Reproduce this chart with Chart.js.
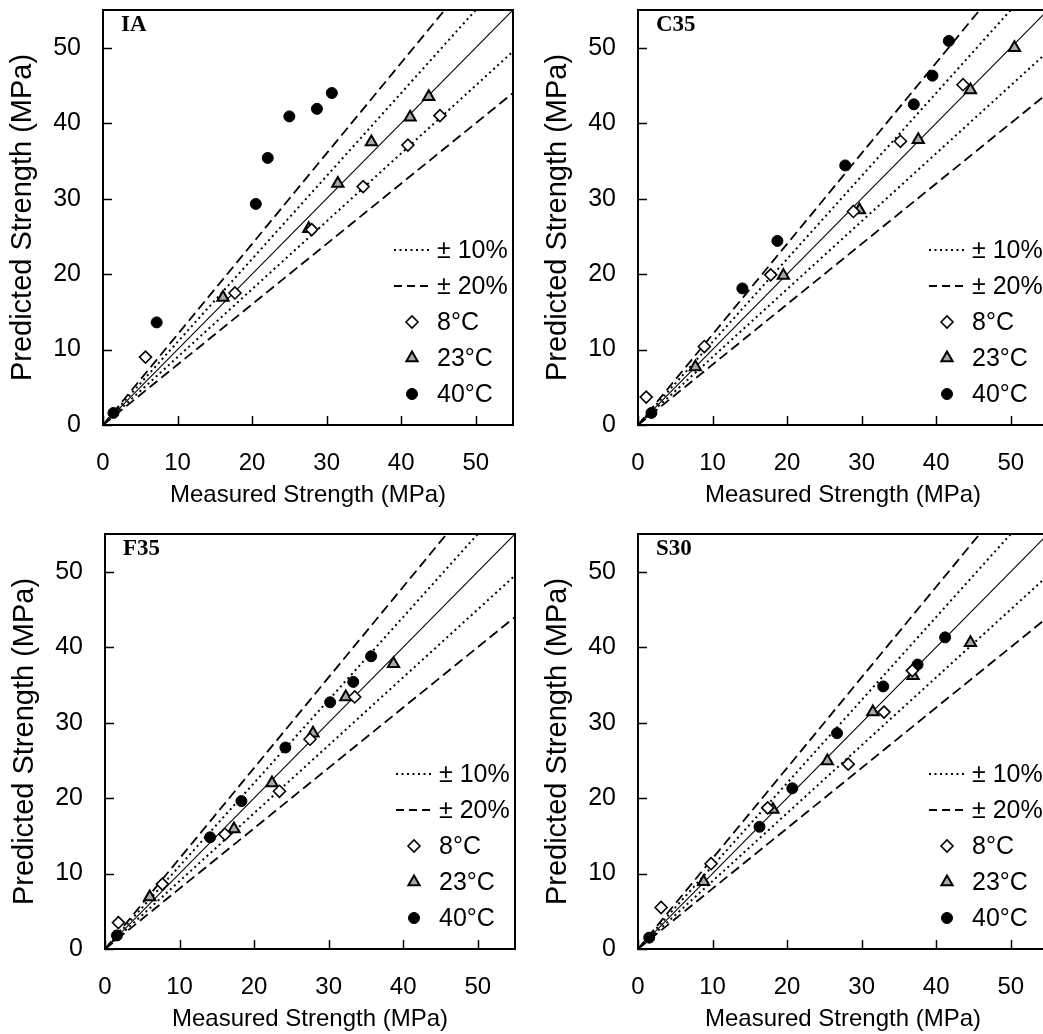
<!DOCTYPE html>
<html>
<head>
<meta charset="utf-8">
<script src="https://cdn.jsdelivr.net/npm/chart.js@4.4.1/dist/chart.umd.min.js"></script>
<style>
  html, body { margin: 0; padding: 0; background: #fff; width: 1043px; height: 1034px; overflow: hidden; position: relative; }
  canvas { position: absolute; }
</style>
</head>
<body>
<canvas id="chartIA"  width="525" height="517" style="left:0px;top:0px"></canvas>
<canvas id="chartC35" width="525" height="517" style="left:535px;top:0px"></canvas>
<canvas id="chartF35" width="525" height="517" style="left:2px;top:524px"></canvas>
<canvas id="chartS30" width="525" height="517" style="left:535px;top:524px"></canvas>
<script>
// measured vs predicted strength (MPa)
const IA_8C  = [[5.7, 9.0], [17.7, 17.5], [28.0, 25.9], [34.9, 31.6], [40.9, 37.1], [45.2, 41.0]];
const IA_23C = [[16.1, 16.9], [27.6, 26.0], [31.5, 32.0], [36.0, 37.5], [41.2, 40.8], [43.7, 43.5]];
const IA_40C = [[1.4, 1.6], [7.2, 13.6], [20.5, 29.3], [22.1, 35.4], [25.0, 40.9], [28.7, 41.9], [30.7, 44.0]];

const C35_8C  = [[1.1, 3.7], [8.9, 10.4], [17.8, 19.9], [28.9, 28.3], [35.2, 37.6], [43.6, 45.1]];
const C35_23C = [[7.7, 7.7], [19.5, 19.8], [29.7, 28.5], [37.6, 37.8], [44.6, 44.4], [50.5, 50.0]];
const C35_40C = [[1.8, 1.6], [14.0, 18.1], [18.7, 24.4], [27.8, 34.4], [37.0, 42.5], [39.5, 46.3], [41.7, 50.9]];

const F35_8C  = [[1.8, 3.5], [7.7, 8.6], [16.1, 15.2], [23.4, 20.9], [27.5, 27.8], [33.5, 33.4]];
const F35_23C = [[6.0, 6.9], [17.3, 15.9], [22.4, 22.0], [27.9, 28.6], [32.3, 33.4], [38.7, 37.8]];
const F35_40C = [[1.6, 1.8], [14.1, 14.8], [18.3, 19.6], [24.2, 26.7], [30.2, 32.7], [33.3, 35.4], [35.7, 38.8]];

const S30_8C  = [[3.1, 5.5], [9.8, 11.3], [17.4, 18.7], [28.2, 24.5], [33.0, 31.4], [36.8, 36.9]];
const S30_23C = [[8.8, 8.9], [18.1, 18.5], [25.4, 24.9], [31.5, 31.4], [36.9, 36.2], [44.6, 40.6]];
const S30_40C = [[1.5, 1.5], [16.3, 16.2], [20.7, 21.3], [26.7, 28.6], [32.9, 34.8], [37.5, 37.7], [41.2, 41.3]];

const axisMax = 55;
const tickValues = [0, 10, 20, 30, 40, 50];
const bandRatios = [1, 1.1, 0.9, 1.2, 0.8];     // y = k * x reference lines
const bandLabels = ['± 10%', '± 20%'];
const seriesLabels = ['8°C', '23°C', '40°C'];
const xTitle = 'Measured Strength (MPa)';
const yTitle = 'Predicted Strength (MPa)';

const SANS = '"Liberation Sans", Arial, Helvetica, sans-serif';
const SERIF = '"Liberation Serif", "Times New Roman", serif';

const toPoints = arr => arr.map(p => ({ x: p[0], y: p[1] }));

// frame, inward ticks, panel label and in-plot legend
const panelDecor = {
    id: 'panelDecor',
    afterDraw(chart, args, opts) {
        const ctx = chart.ctx;
        const a = chart.chartArea;
        const xs = chart.scales.x, ys = chart.scales.y;
        ctx.save();
        ctx.strokeStyle = '#000';
        ctx.lineWidth = 1.5;
        ctx.beginPath();
        xs.ticks.forEach(t => {
            const px = Math.round(xs.getPixelForValue(t.value)) + 0.5;
            ctx.moveTo(px, a.bottom);
            ctx.lineTo(px, a.bottom - 9);
        });
        ys.ticks.forEach(t => {
            const py = Math.round(ys.getPixelForValue(t.value)) + 0.5;
            ctx.moveTo(a.left, py);
            ctx.lineTo(a.left + 9, py);
        });
        ctx.stroke();

        ctx.lineWidth = 2;
        ctx.strokeRect(a.left, a.top, a.right - a.left, a.bottom - a.top);

        ctx.fillStyle = '#000';
        ctx.font = 'bold 23px ' + SERIF;
        ctx.textBaseline = 'top';
        ctx.textAlign = 'left';
        ctx.fillText(opts.label, a.left + 18, a.top + 4);

        // legend rows, bottom-right inside the plot
        const rows = chart.data.datasets.filter(d => d.legendText);
        const textX = a.right - 76;
        const markX = textX - 25;
        ctx.font = '25px ' + SANS;
        ctx.textBaseline = 'middle';
        rows.forEach((d, i) => {
            const cy = a.bottom - 31 - 36 * (rows.length - 1 - i);
            if (d.showLine) {
                ctx.save();
                ctx.strokeStyle = d.borderColor;
                ctx.lineWidth = d.borderWidth;
                ctx.setLineDash(d.legendDash);
                ctx.beginPath();
                ctx.moveTo(markX - 18, cy);
                ctx.lineTo(markX + 18, cy);
                ctx.stroke();
                ctx.restore();
            } else {
                ctx.save();
                ctx.fillStyle = d.pointBackgroundColor;
                ctx.strokeStyle = d.pointBorderColor;
                ctx.lineWidth = d.pointBorderWidth;
                Chart.helpers.drawPoint(ctx, {
                    pointStyle: d.pointStyle,
                    radius: d.pointRadius,
                    rotation: 0,
                    borderWidth: d.pointBorderWidth
                }, markX, cy);
                ctx.restore();
            }
            ctx.fillStyle = '#000';
            ctx.fillText(d.legendText, textX, cy + 1);
        });
        ctx.restore();
    }
};

function makePanel(canvasId, label, s8, s23, s40) {
    const marker = [
        { data: s8,  label: seriesLabels[0], pointStyle: 'rectRot',  pointRadius: 6,   pointBackgroundColor: '#fff',    pointBorderColor: '#000', pointBorderWidth: 1.6 },
        { data: s23, label: seriesLabels[1], pointStyle: 'triangle', pointRadius: 6.5, pointBackgroundColor: '#a8a8a8', pointBorderColor: '#000', pointBorderWidth: 2 },
        { data: s40, label: seriesLabels[2], pointStyle: 'circle',   pointRadius: 5.5, pointBackgroundColor: '#000',    pointBorderColor: '#000', pointBorderWidth: 1 }
    ].map(m => Object.assign(m, {
        data: toPoints(m.data),
        showLine: false,
        pointHoverRadius: m.pointRadius,
        legendText: m.label,
        order: 1
    }));

    const lineStyles = [
        { dash: [],       width: 1.1, legend: null },
        { dash: [2, 3.5], width: 2,   legend: bandLabels[0] },
        { dash: [2, 3.5], width: 2,   legend: null },
        { dash: [10, 5],  width: 1.8, legend: bandLabels[1] },
        { dash: [10, 5],  width: 1.8, legend: null }
    ];
    const lines = bandRatios.map((k, i) => ({
        label: 'y = ' + k + 'x',
        data: [{ x: 0, y: 0 }, { x: axisMax, y: axisMax * k }],
        showLine: true,
        borderColor: '#000',
        borderWidth: lineStyles[i].width,
        borderDash: lineStyles[i].dash,
        legendDash: i === 1 ? [2, 3.5] : [8, 5],
        pointRadius: 0,
        pointHoverRadius: 0,
        fill: false,
        legendText: lineStyles[i].legend,
        order: 2
    }));

    // legend order: bands first, then markers
    const datasets = [lines[1], lines[3], ...marker, lines[0], lines[2], lines[4]];

    return new Chart(document.getElementById(canvasId), {
        type: 'scatter',
        data: { datasets: datasets },
        options: {
            responsive: false,
            animation: false,
            devicePixelRatio: 1,
            layout: { padding: { top: 10, right: 12, left: 0, bottom: 0 } },
            plugins: {
                legend: { display: false },
                tooltip: { enabled: false },
                panelDecor: { label: label }
            },
            scales: {
                x: {
                    type: 'linear',
                    min: 0,
                    max: axisMax,
                    afterBuildTicks: s => { s.ticks = tickValues.map(v => ({ value: v })); },
                    afterFit: s => { s.height = 92; s.paddingLeft = 0; s.paddingRight = 0; },
                    grid: { display: false, drawTicks: false },
                    border: { display: false },
                    ticks: { color: '#000', font: { family: SANS, size: 24 }, padding: 24, maxRotation: 0 },
                    title: { display: true, text: xTitle, color: '#000', font: { family: SANS, size: 24 }, padding: { top: 0, bottom: 7 } }
                },
                y: {
                    type: 'linear',
                    min: 0,
                    max: axisMax,
                    afterBuildTicks: s => { s.ticks = tickValues.map(v => ({ value: v })); },
                    afterFit: s => { s.width = 103; s.paddingTop = 0; s.paddingBottom = 0; },
                    grid: { display: false, drawTicks: false },
                    border: { display: false },
                    ticks: { color: '#000', font: { family: SANS, size: 25 }, padding: 22 },
                    title: { display: true, text: yTitle, color: '#000', font: { family: SANS, size: 29 }, padding: { top: 6, bottom: 0 } }
                }
            }
        },
        plugins: [panelDecor]
    });
}

makePanel('chartIA',  'IA',  IA_8C,  IA_23C,  IA_40C);
makePanel('chartC35', 'C35', C35_8C, C35_23C, C35_40C);
makePanel('chartF35', 'F35', F35_8C, F35_23C, F35_40C);
makePanel('chartS30', 'S30', S30_8C, S30_23C, S30_40C);
</script>
</body>
</html>
